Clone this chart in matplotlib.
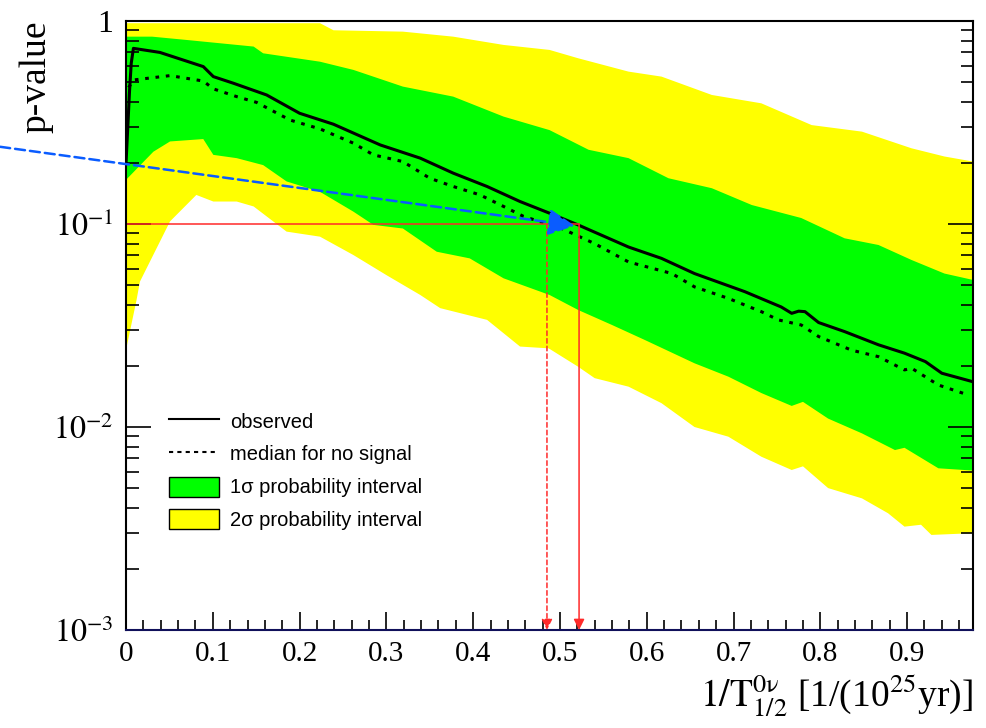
import matplotlib
matplotlib.use("Agg")
import matplotlib.pyplot as plt
import numpy as np
from matplotlib.ticker import MultipleLocator, LogLocator, NullFormatter, FuncFormatter
from matplotlib.patches import Patch
from matplotlib.lines import Line2D

# フォント設定 (ROOT 風: Times 系)
plt.rcParams["font.family"] = ["Liberation Serif", "DejaVu Serif"]
plt.rcParams["mathtext.fontset"] = "stix"

# observed p-value
obs_x = [0.0, 0.002, 0.004, 0.006, 0.0085, 0.039, 0.089, 0.1006, 0.124, 0.162, 0.200,
         0.239, 0.293, 0.339, 0.377, 0.416, 0.454, 0.488, 0.521, 0.579, 0.617, 0.655,
         0.713, 0.755, 0.767, 0.775, 0.7823, 0.798, 0.828, 0.867, 0.897, 0.921, 0.940, 0.976]
obs_y = [0.20, 0.30, 0.45, 0.62, 0.733, 0.70, 0.596, 0.532, 0.493, 0.432, 0.351,
         0.31, 0.245, 0.211, 0.178, 0.153, 0.129, 0.113, 0.0989, 0.077, 0.0677, 0.057,
         0.0464, 0.039, 0.0363, 0.0372, 0.037, 0.0327, 0.0295, 0.0254, 0.0231, 0.021, 0.0184, 0.0167]

# median for no signal
med_x = [0.003, 0.0085, 0.0507, 0.089, 0.1006, 0.1275, 0.1505, 0.189, 0.2235, 0.262,
         0.285, 0.319, 0.350, 0.377, 0.408, 0.435, 0.458, 0.502, 0.540, 0.579, 0.629,
         0.655, 0.694, 0.732, 0.7515, 0.778, 0.798, 0.836, 0.867, 0.897, 0.905, 0.936, 0.970]
med_y = [0.47, 0.512, 0.538, 0.506, 0.463, 0.424, 0.397, 0.325, 0.294, 0.250,
         0.219, 0.203, 0.168, 0.153, 0.139, 0.122, 0.109, 0.095, 0.080, 0.065, 0.057,
         0.049, 0.043, 0.037, 0.0337, 0.0318, 0.0279, 0.0239, 0.0222, 0.0191, 0.0195, 0.0161, 0.0144]

# 1 sigma band
g_hi_x = [0.0, 0.03, 0.070, 0.147, 0.158, 0.2235, 0.262, 0.319, 0.377, 0.435, 0.488,
          0.533, 0.579, 0.625, 0.675, 0.721, 0.778, 0.828, 0.867, 0.905, 0.943, 0.976]
g_hi_y = [0.837, 0.837, 0.806, 0.748, 0.693, 0.63, 0.574, 0.475, 0.424, 0.338, 0.29,
          0.232, 0.211, 0.168, 0.150, 0.124, 0.107, 0.085, 0.0788, 0.0665, 0.057, 0.053]
g_lo_x = [0.0, 0.0315, 0.0507, 0.089, 0.1006, 0.1275, 0.158, 0.185, 0.2235, 0.262, 0.285,
          0.319, 0.358, 0.396, 0.435, 0.488, 0.521, 0.560, 0.598, 0.655, 0.694, 0.732,
          0.767, 0.78, 0.809, 0.848, 0.886, 0.897, 0.936, 0.976]
g_lo_y = [0.165, 0.227, 0.255, 0.262, 0.219, 0.211, 0.195, 0.162, 0.144, 0.115, 0.099,
          0.095, 0.073, 0.0677, 0.054, 0.0447, 0.0377, 0.0318, 0.0268, 0.0206, 0.0177, 0.0147,
          0.0127, 0.0133, 0.011, 0.0093, 0.0077, 0.0079, 0.00626, 0.0061]

# 2 sigma band
y_hi_x = [0.0, 0.2235, 0.239, 0.319, 0.377, 0.435, 0.488, 0.521, 0.579, 0.617, 0.675,
          0.732, 0.790, 0.848, 0.905, 0.943, 0.976]
y_hi_y = [0.975, 0.975, 0.90, 0.886, 0.837, 0.762, 0.72, 0.655, 0.563, 0.532, 0.432,
          0.393, 0.307, 0.285, 0.236, 0.215, 0.203]
y_lo_x = [0.0, 0.012, 0.016, 0.0507, 0.081, 0.1006, 0.1275, 0.147, 0.185, 0.2235, 0.262,
          0.300, 0.339, 0.362, 0.416, 0.454, 0.487, 0.521, 0.540, 0.579, 0.617, 0.655,
          0.694, 0.732, 0.767, 0.78, 0.809, 0.848, 0.878, 0.897, 0.916, 0.928, 0.976]
y_lo_y = [0.024, 0.042, 0.052, 0.103, 0.139, 0.129, 0.129, 0.122, 0.0917, 0.0866, 0.0703,
          0.056, 0.0447, 0.0385, 0.0337, 0.0249, 0.0244, 0.0198, 0.0174, 0.0158, 0.0131, 0.0100,
          0.00896, 0.00714, 0.00614, 0.0064, 0.0050, 0.00445, 0.00376, 0.00323, 0.0033, 0.00294, 0.003]

# 限界値と矢印
p_threshold = 0.1
limit_observed = 0.522
limit_median = 0.485
blue_start = (-0.145, 0.24)
blue_end = (0.517, 0.098)

xmax = 0.976
ymin, ymax = 1e-3, 1.0

labels = ["observed", "median for no signal",
          "1σ probability interval", "2σ probability interval"]

fig = plt.figure(figsize=(9.87, 7.28), dpi=100)
ax = fig.add_axes([0.1277, 0.1346, 0.8582, 0.8366])

# バンド
ax.fill(np.concatenate([y_hi_x, y_lo_x[::-1]]), np.concatenate([y_hi_y, y_lo_y[::-1]]),
        color="#ffff00", lw=0)
ax.fill(np.concatenate([g_hi_x, g_lo_x[::-1]]), np.concatenate([g_hi_y, g_lo_y[::-1]]),
        color="#00ff00", lw=0)

# 線
ax.plot(med_x, med_y, color="black", lw=2.2, linestyle=(0, (1.2, 2.2)))
ax.plot(obs_x, obs_y, color="black", lw=2.2)

# 赤い線と矢印
red = "#ff2a2a"
ax.plot([0, limit_observed], [p_threshold, p_threshold], color=red, lw=1.1)
ax.annotate("", xy=(limit_observed, ymin), xytext=(limit_observed, p_threshold),
            arrowprops=dict(arrowstyle="-|>", color=red, lw=1.1, mutation_scale=16,
                            shrinkA=0, shrinkB=0))
ax.annotate("", xy=(limit_median, ymin), xytext=(limit_median, p_threshold),
            arrowprops=dict(arrowstyle="-|>", color=red, lw=1.1, linestyle=(0, (3, 2)),
                            mutation_scale=16, shrinkA=0, shrinkB=0))

# 青い矢印 (軸の外から)
ax.annotate("", xy=blue_end, xytext=blue_start, annotation_clip=False,
            arrowprops=dict(arrowstyle="-|>,head_length=0.9,head_width=0.45",
                            color="#0a5cff", lw=1.8, linestyle=(0, (4, 2)),
                            mutation_scale=18, shrinkA=0, shrinkB=0))

# 軸の設定
ax.set_yscale("log")
ax.set_xlim(0, xmax)
ax.set_ylim(ymin, ymax)
ax.set_yticks([1e-3, 1e-2, 1e-1, 1.0])
ax.set_yticklabels([r"$10^{-3}$", r"$10^{-2}$", r"$10^{-1}$", "1"])
ax.yaxis.set_minor_locator(LogLocator(base=10, subs=np.arange(2, 10)))
ax.yaxis.set_minor_formatter(NullFormatter())
ax.xaxis.set_major_locator(MultipleLocator(0.1))
ax.xaxis.set_minor_locator(MultipleLocator(0.02))
ax.xaxis.set_major_formatter(FuncFormatter(lambda v, _: f"{v:g}"))

ax.tick_params(axis="both", which="both", direction="in", top=False, right=True, width=1.2)
ax.tick_params(axis="y", which="major", length=18, pad=9, labelsize=23)
ax.tick_params(axis="y", which="minor", length=9)
ax.tick_params(axis="x", which="major", length=13, pad=8, labelsize=21)
ax.tick_params(axis="x", which="minor", length=7)

for s in ax.spines.values():
    s.set_linewidth(1.5)
ax.spines["bottom"].set_color("#10105a")

# 軸ラベル
ax.set_xlabel(r"$1/\mathrm{T}^{\mathrm{0\nu}}_{1/2}$ [1/(10$^{25}$yr)]", fontsize=27,
              loc="right", labelpad=3)
ax.set_ylabel("p-value", fontsize=27, loc="top", labelpad=0)

# 凡例
handles = [
    Line2D([], [], color="black", lw=1.5),
    Line2D([], [], color="black", lw=1.5, linestyle=(0, (2, 2))),
    Patch(facecolor="#00ff00", edgecolor="black", lw=1),
    Patch(facecolor="#ffff00", edgecolor="black", lw=1),
]
ax.legend(handles, labels, loc="upper left", bbox_to_anchor=(0.0508, 0.360),
          frameon=False, borderpad=0, borderaxespad=0, handlelength=2.5,
          handleheight=1.15, labelspacing=0.6, handletextpad=0.55,
          prop={"family": ["Liberation Sans", "DejaVu Sans"], "size": 14.5})

plt.savefig("out.png", dpi=100)
